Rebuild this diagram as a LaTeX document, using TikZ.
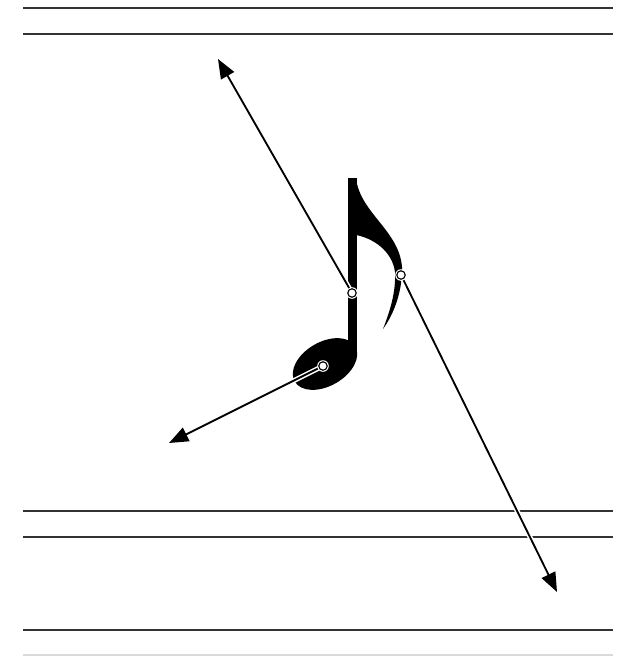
\documentclass[tikz,border=0pt]{standalone}
\usetikzlibrary{arrows.meta}
\begin{document}
\begin{tikzpicture}[x=0.02cm,y=-0.02cm,
  staff/.style={draw=black!80,line width=0.8pt},
  pointer/.style={draw=black,line width=1.05pt,-{Triangle[length=11pt,width=8.5pt]}},
  casing/.style={draw=white,line width=2.8pt},
  joint/.style={circle,draw=black,fill=white,line width=0.65pt,inner sep=0pt,minimum size=4.8pt},
  halo/.style={circle,fill=white,inner sep=0pt,minimum size=6.6pt}]
\useasboundingbox (0,0) rectangle (625,656);
% staff lines
\draw[staff] (23,8) -- (613,8);
\draw[staff] (23,34) -- (613,34);
\draw[staff] (23,511) -- (613,511);
\draw[staff] (23,537) -- (613,537);
\draw[staff] (23,630) -- (613,630);
\draw[draw=black!15,line width=0.8pt] (23,655) -- (613,655);
% note
\fill[black] (348,178) rectangle (356.5,356);
\fill[black,rotate around={30:(325,364)}] (325,364) ellipse [x radius=35, y radius=22];
\fill[black] (356,178) .. controls (360,215) and (405,233) .. (402,275)
  .. controls (400,300) and (391,318) .. (383,329)
  .. controls (390,311) and (396,292) .. (395,272)
  .. controls (392,250) and (372,238) .. (356,235) -- cycle;
% end points
\coordinate (t1) at (218,59);
\coordinate (t2) at (557,592);
\coordinate (t3) at (169,443);
\coordinate (p1) at (352,293);
\coordinate (p2) at (401,275);
\coordinate (p3) at (323,366);
% casings
\draw[casing,shorten >=20pt] (p1) -- (t1);
\draw[casing,shorten >=20pt] (p2) -- (t2);
\draw[casing,shorten >=20pt] (p3) -- (t3);
% arrows
\draw[pointer] (p1) -- (t1);
\draw[pointer] (p2) -- (t2);
\draw[pointer] (p3) -- (t3);
% joints
\node[halo] at (p1) {};
\node[halo] at (p2) {};
\node[halo] at (p3) {};
\node[joint] (c1) at (p1) {};
\node[joint] (c2) at (p2) {};
\node[joint] (c3) at (p3) {};
\end{tikzpicture}
\end{document}
